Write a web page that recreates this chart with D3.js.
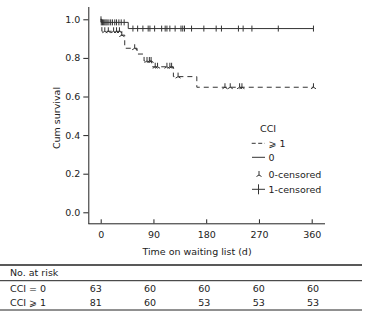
<!DOCTYPE html>
<html>
<head>
<meta charset="utf-8">
<script src="https://cdn.jsdelivr.net/npm/d3@7"></script>
<style>
  body { margin: 0; background: #fff; }
  text { font-family: "DejaVu Sans", Tahoma, sans-serif; font-size: 9.5px; fill: #222; }
</style>
</head>
<body>
<div id="km"></div>
<script>
// step curves: [day, cumulative survival]
var cci0Steps = [[0, 1], [1, 0.984], [47, 0.952]];
var cci1Steps = [[0, 1], [2, 0.938], [34, 0.918], [41, 0.85], [62, 0.82], [74, 0.784],
                 [87, 0.754], [124, 0.703], [164, 0.648]];
var lastDay = 363;

// censored times (days)
var cci0Censored = [0.5, 1, 3, 5, 7, 9, 11, 14, 17, 20, 24, 27, 31, 35, 40,
                    55, 63, 72, 81, 84, 92, 104, 110, 113, 118, 127, 137, 140, 143,
                    155, 176, 197, 206, 235, 243, 258, 303, 363];
var cci1Censored = [7, 13, 22, 27, 32, 36, 58, 79, 83, 86, 93, 97, 113, 118, 121,
                    132, 212, 221, 237, 241, 363];

var xTicks = [0, 90, 180, 270, 360];
var yTicks = [0, 0.2, 0.4, 0.6, 0.8, 1.0];

var riskLabels = ["CCI = 0", "CCI \u2A7E 1"];
var riskCCI0 = [63, 60, 60, 60, 60];
var riskCCI1 = [81, 60, 53, 53, 53];

var legendItems = ["\u2A7E 1", "0", "0-censored", "1-censored"];

var width = 369, height = 318;
var svg = d3.select('#km').append('svg')
            .attr('width', width)
            .attr('height', height);

var x = d3.scaleLinear().domain([0, 360]).range([100.7, 311.7]);
var y = d3.scaleLinear().domain([0, 1]).range([212.3, 19.3]);

// axes
var xAxis = d3.axisBottom(x).tickValues(xTicks).tickSizeInner(-4).tickSizeOuter(0).tickPadding(8);
var gx = svg.append('g').attr('transform', 'translate(0,223.3)').call(xAxis);
gx.select('.domain').attr('d', 'M88.3,0.5H325');
var yAxis = d3.axisLeft(y).tickValues(yTicks).tickFormat(d3.format('.1f')).tickSizeInner(5).tickSizeOuter(0).tickPadding(3);
var gy = svg.append('g').attr('transform', 'translate(88.3,0)').call(yAxis);
gy.select('.domain').attr('d', 'M0.5,7V223.8');
svg.selectAll('.domain, .tick line').attr('stroke', '#222');
svg.selectAll('.tick text').style('font-family', null).style('font-size', null).attr('font-size', null).attr('font-family', null);

svg.append('text').attr('x', 197).attr('y', 255).attr('text-anchor', 'middle')
   .text('Time on waiting list (d)');
svg.append('text').attr('transform', 'translate(60,118) rotate(-90)').attr('text-anchor', 'middle')
   .text('Cum survival');

function stepAt(steps, t) {
  var s = steps[0][1];
  steps.forEach(function(p) { if (p[0] <= t) s = p[1]; });
  return s;
}
var line = d3.line().x(function(d) { return x(d[0]); }).y(function(d) { return y(d[1]); })
             .curve(d3.curveStepAfter);

function drawCurve(steps, dash) {
  var pts = steps.concat([[lastDay, steps[steps.length - 1][1]]]);
  svg.append('path').attr('d', line(pts)).attr('fill', 'none')
     .attr('stroke', '#333').attr('stroke-width', 1)
     .attr('stroke-dasharray', dash);
}
drawCurve(cci0Steps, null);
drawCurve(cci1Steps, '5,4');

// censor marks
svg.selectAll('.plus').data(cci0Censored).enter().append('path')
   .attr('class', 'plus')
   .attr('d', function(d) { var px = x(d), py = y(stepAt(cci0Steps, d));
     return 'M' + px + ',' + (py - 3) + 'V' + (py + 3); })
   .attr('stroke', '#333').attr('stroke-width', 1);
function tee(px, py) {
  return 'M' + px + ',' + (py - 4) + 'V' + py + 'L' + (px - 2.5) + ',' + (py + 1.5) +
         'M' + px + ',' + py + 'L' + (px + 2.5) + ',' + (py + 1.5);
}
svg.selectAll('.tee').data(cci1Censored).enter().append('path')
   .attr('class', 'tee')
   .attr('d', function(d) { return tee(x(d), y(stepAt(cci1Steps, d))); })
   .attr('fill', 'none').attr('stroke', '#333').attr('stroke-width', 1);

// legend
var lg = svg.append('g');
lg.append('text').attr('x', 260).attr('y', 131.5).text('CCI');
var ly = [143.3, 157.3, 174, 189.3];
legendItems.forEach(function(t, i) {
  lg.append('text').attr('x', 268.5).attr('y', ly[i] + 3.5).text(t);
});
lg.append('path').attr('d', 'M251.7,' + ly[0] + 'H265').attr('stroke', '#333').attr('stroke-dasharray', '4,2.5');
lg.append('path').attr('d', 'M252,' + ly[1] + 'H265').attr('stroke', '#333');
lg.append('path').attr('d', tee(259, ly[2] + 1)).attr('fill', 'none').attr('stroke', '#333');
lg.append('path').attr('d', 'M252,' + ly[3] + 'H265M258.5,' + (ly[3] - 5) + 'V' + (ly[3] + 5)).attr('stroke', '#333');

// number at risk table
var col = d3.scalePoint().domain(xTicks).range([95.7, 313]);
[265, 280.7, 310].forEach(function(yy, i) {
  svg.append('line').attr('x1', 0).attr('x2', 362).attr('y1', yy).attr('y2', yy)
     .attr('stroke', '#222').attr('stroke-width', i === 0 ? 1.3 : 1);
});
svg.append('text').attr('x', 10).attr('y', 276).text('No. at risk');
[riskCCI0, riskCCI1].forEach(function(row, r) {
  var yy = r === 0 ? 291.5 : 306;
  svg.append('text').attr('x', 10).attr('y', yy).text(riskLabels[r]);
  row.forEach(function(v, i) {
    svg.append('text').attr('x', col(xTicks[i])).attr('y', yy).attr('text-anchor', 'middle').text(v);
  });
});
</script>
</body>
</html>
